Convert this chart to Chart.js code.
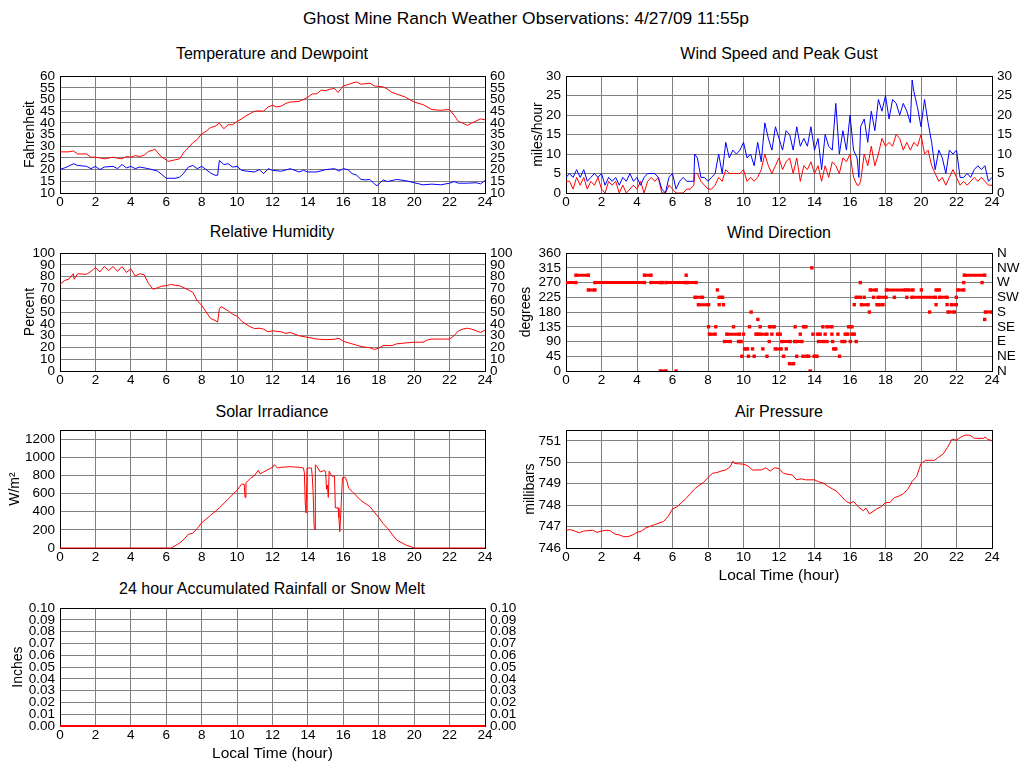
<!DOCTYPE html>
<html>
<head>
<meta charset="utf-8">
<script src="https://cdn.jsdelivr.net/npm/chart.js@4.4.1/dist/chart.umd.min.js"></script>
<style>
body { margin: 0; background: #fff; width: 1024px; height: 768px; position: relative; overflow: hidden; font-family: "Liberation Sans", Arial, sans-serif; }
canvas { position: absolute; }
.t { position: absolute; transform: translate(-50%, -50%); white-space: nowrap; font-size: 16px; color: #000; }
</style>
</head>
<body>
<div class="t" style="left:526px;top:18px;font-size:17.4px">Ghost Mine Ranch Weather Observations: 4/27/09 11:55p</div>
<div class="t" style="left:272px;top:54px">Temperature and Dewpoint</div>
<div class="t" style="left:779px;top:54px">Wind Speed and Peak Gust</div>
<div class="t" style="left:272px;top:232px">Relative Humidity</div>
<div class="t" style="left:779px;top:233px">Wind Direction</div>
<div class="t" style="left:272px;top:412px">Solar Irradiance</div>
<div class="t" style="left:779px;top:412px">Air Pressure</div>
<div class="t" style="left:272px;top:589px">24 hour Accumulated Rainfall or Snow Melt</div>
<canvas id="temp"></canvas>
<canvas id="wind"></canvas>
<canvas id="rh"></canvas>
<canvas id="dir"></canvas>
<canvas id="solar"></canvas>
<canvas id="pres"></canvas>
<canvas id="rain"></canvas>
<script>
// donnees (heure locale)
var tempHours = [0,0.5,0.75,1,1.5,1.75,2,2.25,2.5,3,3.25,3.5,3.75,4,4.25,4.5,4.75,5,5.25,5.35,5.5,5.75,6,6.1,6.5,6.75,7,7.25,7.5,7.75,8,8.25,8.5,8.75,9,9.25,9.5,9.75,10,10.25,10.5,10.75,11,11.25,11.5,11.75,12,12.25,12.5,12.75,13,13.5,13.75,14,14.25,14.5,14.75,15,15.25,15.5,15.7,16,16.25,16.5,16.75,17,17.5,17.75,18,18.25,18.5,18.75,19,19.5,20,20.5,21,21.5,22,22.25,22.5,22.75,23,23.25,23.5,23.75,24];
var tempF = [27.6,27.6,28,26.7,26.7,25.3,25.3,25,24.6,25.3,24.9,24.6,25.6,25.3,26,25.6,26.2,27.8,28.3,28.8,27.4,25.3,24.2,23.5,24.2,24.6,27.4,29.4,31.5,32.9,35.3,36.4,38,38.5,39.9,37.5,39.2,39.2,40.6,41.7,43,44,45,45.1,45,46.8,47.5,46.8,47.2,48.3,48.9,49.2,50,51,52.4,52.4,54,53.8,54.4,54.7,53,55.8,56.3,57,57.5,56.5,57,55.8,55.6,55.4,54.4,53,52.4,51,48.9,47.8,45.7,45.4,45.7,43.3,40.6,39.9,38.9,39.9,40.8,41.7,41.3];

var dewHours = [0,0.25,0.5,0.75,1,1.5,1.75,2,2.25,2.5,3,3.25,3.5,3.75,4,4.25,4.5,5,5.5,5.75,6,6.5,6.75,7,7.25,7.5,7.75,8,8.25,8.5,8.75,8.9,9,9.25,9.5,9.75,10,10.25,10.5,11,11.25,11.5,11.75,12,12.5,13,13.5,13.75,14,14.5,15,15.5,15.75,16,16.25,16.5,16.75,17,17.25,17.5,17.75,17.9,18.25,18.5,19,19.5,20,20.5,21,21.5,22,22.25,22.5,23,23.5,23.75,24];
var dewF = [20.1,20.7,21.5,22.5,21.8,21.4,20.4,21.4,20,21.1,21.4,20.4,22.2,20.7,21.4,20.4,21.1,20.4,19.4,17.9,16.3,16.3,16.7,18.6,21.1,21.8,20.4,21.4,20,18.6,17.6,17.6,23.9,22.2,22.5,21.1,21.4,19.7,19.4,19,20,18.3,20.4,19.7,19.3,20.4,19,19.7,19,19,20,20.4,19.4,20.4,20,18.3,17.6,15.8,15.6,15.8,13.9,13.1,15.6,14.9,15.8,15.3,14.4,13.5,13.8,13.5,14.2,14.9,14.2,14.2,14.4,13.9,15.3];

var windHours = [0,0.2,0.4,0.6,0.8,1,1.2,1.4,1.6,1.8,2,2.2,2.4,2.6,2.8,3,3.2,3.4,3.6,3.8,4,4.2,4.4,4.6,4.8,5,5.2,5.4,5.6,5.8,6,6.2,6.4,6.6,6.8,7,7.2,7.25,7.4,7.6,7.8,8,8.2,8.4,8.6,8.8,9,9.2,9.4,9.6,9.8,10,10.2,10.4,10.6,10.8,11,11.2,11.4,11.6,11.8,12,12.2,12.4,12.6,12.8,13,13.2,13.4,13.6,13.8,14,14.2,14.4,14.6,14.8,15,15.2,15.4,15.6,15.8,16,16.2,16.4,16.5,16.6,16.8,17,17.2,17.4,17.6,17.8,18,18.2,18.4,18.6,18.8,19,19.2,19.4,19.5,19.6,19.8,20,20.2,20.4,20.6,20.8,21,21.2,21.4,21.6,21.8,22,22.2,22.4,22.6,22.8,23,23.2,23.4,23.6,23.8,24];
var windMph = [3,3,1,4,2,4,1,3,2,4, 1,0,3,2,3,0,2,0,1,2, 1,3,0,3,4,3,4,0,0,2, 1,0,0,0,1,1,2,5,5,3, 2,1,1,2,4,3,6,5,5,5, 5,6,3,4,3,4,6,10,7,5, 7,9,6,8,9,5,9,3,7,6, 8,5,7,3,7,4,8,7,5,9, 8,10,4,2,2,3,10,7,12,7, 10,14,12,13,12,15,14,11,13,11, 12,13,12,15,10,11,7,5,3,4, 2,4,6,4,2,3,2,3,4,3, 4,3,2,2];
var gustMph = [4,5,4,6,4,6,3,4,5,4, 5,2,4,3,4,2,4,3,5,3, 4,2,4,5,5,5,4,1,0,4, 5,1,3,4,3,3,3,10,9,4, 4,3,4,5,10,5,13,9,11,10, 11,13,9,10,7,13,8,18,14,11, 17,14,11,16,15,11,17,12,14,12, 17,11,14,6,15,12,11,23,10,16, 11,20,11,9,4,17,19,13,21,16, 24,21,25,19,24,23,20,23,21,18, 29,26,22,17,24,18,13,6,11,9, 5,11,10,11,4,4,5,4,6,7, 6,7,3,4];

var rhHours = [0,0.25,0.5,0.75,0.8,1,1.5,1.75,2,2.25,2.5,2.75,3,3.25,3.5,3.75,4,4.25,4.5,4.75,5,5.25,5.5,5.75,6,6.25,6.5,6.75,7,7.25,7.5,7.75,8,8.25,8.5,8.75,8.9,9,9.1,9.5,9.75,10,10.25,10.5,10.75,11,11.25,11.5,11.75,12,12.5,12.75,13,13.5,14,14.5,15,15.5,15.75,16,16.5,17,17.5,17.75,18,18.25,18.75,19,19.5,20,20.5,20.75,21,21.5,22,22.25,22.5,22.75,23,23.25,23.5,23.75,24];
var rhPct = [73.4,76.7,78,82.5,77.8,82.5,82,84.5,87.8,84,88.6,85.3,88.6,84.5,88.6,83.6,86.7,80.6,82.5,81.7,74.2,69.3,70.6,72,72.3,73.4,72.8,72.3,70.6,68.7,66.8,59.6,55.7,50.1,44.6,42.9,41.5,52.6,54.6,51,48.2,46.5,42.4,39.6,37.4,36,36.3,35.5,33.2,34.1,33.2,31.9,32.7,29.9,28.5,27.1,26.6,26.9,27.7,25.2,23,20.8,19.7,18.3,19.4,21.6,21.6,23,23.8,24.4,24.4,26.3,27.1,27.1,27.1,29.9,34.1,35.5,36.3,35.5,34.1,32.7,34.6];

// direction du vent : paliers (debut, fin, degres)
var dirStart = [0,0.56,1.26,1.63,4.42,4.79,5.32,5.45,5.64,6.2,6.77,6.84,7.27,7.46,8.03,8.08,8.44,8.53,8.63,8.63,8.87,8.93,9.06,9.44,9.72,9.91,10.0,10.06,10.28,10.34,10.43,10.51,10.6,10.7,10.81,10.94,10.94,11.09,11.32,11.45,11.47,11.6,11.79,11.92,12.16,12.26,12.41,12.59,12.88,12.91,13.0,13.0,13.2,13.35,13.38,13.53,13.76,13.85,13.91,13.98,14.17,14.23,14.47,14.6,14.7,14.7,14.98,15.02,15.08,15.32,15.41,15.55,15.73,15.92,16.02,16.11,16.24,16.35,16.35,16.58,16.64,16.8,17.09,17.14,17.33,17.52,17.58,17.61,18.05,18.5,19.2,19.27,19.49,20.02,20.49,20.85,20.85,21.05,21.47,21.52,21.71,21.99,22.07,22.41,22.44,23.44,23.59,23.63];
var dirEnd = [0.56,1.26,1.63,4.42,4.79,5.32,5.64,5.45,6.71,6.2,6.77,7.33,7.69,8.03,8.03,8.4,8.44,8.53,8.63,8.82,8.87,9.25,9.77,9.44,9.87,9.91,10.0,10.23,10.28,10.34,10.43,10.51,10.6,10.81,10.81,10.94,11.32,11.09,11.32,11.45,11.73,11.6,12.12,12.07,12.63,12.26,12.41,12.82,12.88,12.91,13.0,13.29,13.2,13.35,13.52,13.67,13.76,13.85,13.91,14.14,14.32,14.51,14.47,14.6,14.7,14.98,14.98,15.02,15.2,15.32,15.41,15.7,15.88,16.11,16.02,16.24,16.24,16.35,16.58,16.58,17.02,16.8,17.09,17.48,17.33,17.52,18.03,17.86,19.12,18.5,19.2,19.55,20.81,20.02,20.49,20.85,21.03,21.47,21.47,21.88,21.99,21.99,22.41,22.41,23.59,23.44,23.59,24];
var dirDeg = [270,292.5,247.5,270,292.5,270,0,270,270,0,292.5,270,225,202.5,135,112.5,135,247.5,202.5,225,202.5,90,112.5,135,90,45,112.5,67.5,45,135,180,67.5,45,112.5,157.5,135,112.5,67.5,45,90,135,112.5,67.5,112.5,90,45,67.5,22.5,90,135,45,90,112.5,45,135,45,0,315,112.5,45,112.5,90,135,112.5,90,135,112.5,90,67.5,112.5,45,90,112.5,135,90,112.5,202.5,90,225,270,202.5,225,180,247.5,225,202.5,225,202.5,247.5,225,225,247.5,225,247.5,180,202.5,247.5,225,202.5,180,202.5,225,247.5,270,292.5,270,157.5,180];
var dirNames = ['N', 'NE', 'E', 'SE', 'S', 'SW', 'W', 'NW', 'N'];

var solarHours = [0,6.3,6.5,6.75,7,7.25,7.5,7.75,8,8.5,9,9.5,10,10.25,10.4,10.45,10.5,10.75,11,11.2,11.3,11.5,12,12.1,12.3,12.5,13,13.5,13.75,13.8,13.85,13.9,13.95,14.2,14.25,14.3,14.35,14.4,14.42,14.5,14.7,14.9,15,15.05,15.1,15.15,15.2,15.35,15.5,15.55,15.7,15.75,15.8,15.85,15.9,15.95,16.1,16.2,16.3,16.5,17,17.5,18,18.25,18.5,19,19.5,20,24];
var solarW = [0,0,25,54,97,151,162,216,277,360,443,540,637,703,703,558,720,767,803,857,818,839,890,918,882,890,896,890,882,828,486,385,882,882,781,576,234,205,918,900,839,853,846,648,695,558,846,792,792,443,443,335,180,360,576,774,781,738,659,623,522,457,335,270,216,90,36,0,0];

var presHours = [0,0.25,0.5,0.75,1,1.5,1.75,2,2.25,2.5,2.75,3,3.25,3.5,3.75,4,4.25,4.5,5,5.5,5.75,6,6.25,6.5,6.75,7,7.25,7.5,7.75,8,8.25,8.5,8.75,9,9.25,9.4,9.5,10,10.25,10.5,11,11.25,11.5,11.75,12,12.25,12.5,12.75,13,13.25,13.5,14,14.25,14.5,14.75,15,15.25,15.5,15.75,16,16.2,16.5,16.75,16.9,17.1,17.5,17.75,18,18.25,18.5,18.75,19,19.25,19.5,19.75,20,20.25,20.75,21,21.25,21.5,21.75,22,22.25,22.5,22.75,23,23.5,23.6,23.75,24];
var presMb = [746.83,746.86,746.79,746.71,746.79,746.83,746.73,746.79,746.83,746.8,746.65,746.61,746.53,746.53,746.61,746.73,746.79,746.94,747.09,747.24,747.47,747.82,747.92,748.12,748.3,748.53,748.76,748.92,749.06,749.29,749.48,749.52,749.59,749.64,749.79,750.05,749.94,749.91,749.83,749.64,749.64,749.74,749.59,749.74,749.71,749.48,749.44,749.41,749.18,749.23,749.18,749.18,749.08,749.03,748.88,748.76,748.65,748.42,748.2,748.08,748.17,747.89,747.74,747.86,747.59,747.82,747.92,748.12,748.12,748.35,748.42,748.53,748.73,749.11,749.33,749.94,750.09,750.09,750.24,750.39,750.7,751.08,751.03,751.18,751.27,751.26,751.12,751.11,751.18,751.08,751.0];
var presTicks = [746, 747, 748, 749, 750, 751];

var rainHours = [0, 24];
var rainIn = [0, 0];

var FONT = '"Liberation Sans", Arial, sans-serif';

// cadre noir autour de la zone de trace
var frame = {
  id: 'frame',
  beforeDatasetsDraw: function (chart) {
    var a = chart.chartArea, ctx = chart.ctx;
    ctx.save();
    ctx.strokeStyle = '#000';
    ctx.lineWidth = 1;
    ctx.strokeRect(Math.round(a.left) + 0.5, Math.round(a.top) + 0.5, Math.round(a.right - a.left), Math.round(a.bottom - a.top));
    ctx.restore();
  }
};

function pts(hs, vs) {
  return hs.map(function (h, i) { return {x: h, y: vs[i]}; });
}

function line(hs, vs, color) {
  return {data: pts(hs, vs), borderColor: color, borderWidth: 1, pointRadius: 0, tension: 0, fill: false};
}

function dirData() {
  var d = [];
  for (var i = 0; i < dirStart.length; i++) {
    d.push({x: dirStart[i], y: dirDeg[i]});
    if (dirEnd[i] > dirStart[i]) d.push({x: dirEnd[i], y: dirDeg[i]});
    d.push({x: dirEnd[i], y: null});
  }
  return d;
}

function plain(v) { return String(v); }

function makePanel(id, p) {
  var cv = document.getElementById(id);
  var top = 10, leftW = 60;
  cv.width = leftW + p.w + p.r;
  cv.height = top + p.h + p.b;
  cv.style.left = (p.x - leftW) + 'px';
  cv.style.top = (p.y - top) + 'px';
  var tickFont = {family: FONT, size: 13.5};
  var scales = {
    x: {
      type: 'linear', min: 0, max: 24,
      ticks: {stepSize: 2, autoSkip: false, maxRotation: 0, color: '#000', font: tickFont, padding: 1, callback: plain},
      grid: {color: '#808080', drawTicks: false},
      border: {color: '#000'},
      title: {display: !!p.xTitle, text: p.xTitle || '', color: '#000', font: {family: FONT, size: 15.5}, padding: {top: 0, bottom: 3}},
      afterFit: function (s) { s.height = p.b; }
    },
    y: {
      type: 'linear', position: 'left', min: p.min, max: p.max,
      ticks: {stepSize: p.step, includeBounds: false, autoSkip: false, color: '#000', font: tickFont, padding: 5, callback: p.fmt || plain},
      grid: {color: '#808080', drawTicks: false},
      border: {color: '#000'},
      title: {display: true, text: p.yTitle, color: '#000', font: {family: FONT, size: 14}, padding: {top: p.tp, bottom: 0}},
      afterFit: function (s) { s.width = leftW; }
    }
  };
  if (p.ticks) {
    scales.y.afterBuildTicks = function (s) {
      s.ticks = p.ticks.map(function (v) { return {value: v}; });
    };
  }
  if (p.right) {
    scales.y2 = {
      type: 'linear', position: 'right', min: p.min, max: p.max,
      ticks: {stepSize: p.step, includeBounds: false, autoSkip: false, color: '#000', font: tickFont, padding: 5, callback: p.rightFmt || p.fmt || plain},
      grid: {display: false, drawTicks: false},
      border: {color: '#000'},
      afterFit: function (s) { s.width = p.r; }
    };
  }
  return new Chart(cv, {
    type: 'line',
    data: {datasets: p.datasets},
    options: {
      responsive: false,
      animation: false,
      events: [],
      layout: {padding: {top: top, left: 0, bottom: 0, right: p.right ? 0 : p.r}},
      plugins: {legend: {display: false}, tooltip: {enabled: false}},
      scales: scales
    },
    plugins: [frame]
  });
}

makePanel('temp', {x: 60, y: 73, w: 425, h: 120, r: 45, b: 22, min: 10, max: 60, step: 5,
  yTitle: 'Fahrenheit', tp: 21.6, right: true,
  datasets: [line(tempHours, tempF, '#ff0000'), line(dewHours, dewF, '#0000ff')]});

makePanel('wind', {x: 566, y: 73, w: 426, h: 120, r: 32, b: 22, min: 0, max: 30, step: 5,
  yTitle: 'miles/hour', tp: 23.6, right: true,
  datasets: [line(windHours, gustMph, '#0000ff'), line(windHours, windMph, '#ff0000')]});

makePanel('rh', {x: 60, y: 250, w: 425, h: 121, r: 45, b: 22, min: 0, max: 100, step: 10,
  yTitle: 'Percent', tp: 21.6, right: true,
  datasets: [line(rhHours, rhPct, '#ff0000')]});

var dirSet = {data: dirData(), borderColor: '#ff0000', borderWidth: 3, borderCapStyle: 'butt', spanGaps: false,
  pointStyle: 'rect', pointRadius: 2.4, pointBorderWidth: 0, pointBackgroundColor: '#ff0000', tension: 0, fill: false};
makePanel('dir', {x: 566, y: 250, w: 426, h: 121, r: 32, b: 22, min: 0, max: 360, step: 45,
  yTitle: 'degrees', tp: 11.6, right: true,
  rightFmt: function (v) { return dirNames[Math.round(v / 45)]; },
  datasets: [dirSet]});

var solarSet = line(solarHours, solarW, '#ff0000');
solarSet.clip = false;
makePanel('solar', {x: 60, y: 427, w: 425, h: 121, r: 45, b: 22, min: 0, max: 1300, step: 200,
  yTitle: 'W/m\u00b2', tp: 6.6, right: false,
  datasets: [solarSet]});

makePanel('pres', {x: 566, y: 427, w: 426, h: 121, r: 32, b: 40, min: 746, max: 751.5, step: 1,
  ticks: presTicks,
  yTitle: 'millibars', tp: 15.6, right: false, xTitle: 'Local Time (hour)',
  datasets: [line(presHours, presMb, '#ff0000')]});

var rainSet = line(rainHours, rainIn, '#ff0000');
rainSet.borderWidth = 2;
rainSet.clip = false;
makePanel('rain', {x: 60, y: 605, w: 425, h: 121, r: 45, b: 40, min: 0, max: 0.1, step: 0.01,
  yTitle: 'Inches', tp: 9.6, right: true, xTitle: 'Local Time (hour)',
  fmt: function (v) { return v.toFixed(2); },
  datasets: [rainSet]});
</script>
</body>
</html>
